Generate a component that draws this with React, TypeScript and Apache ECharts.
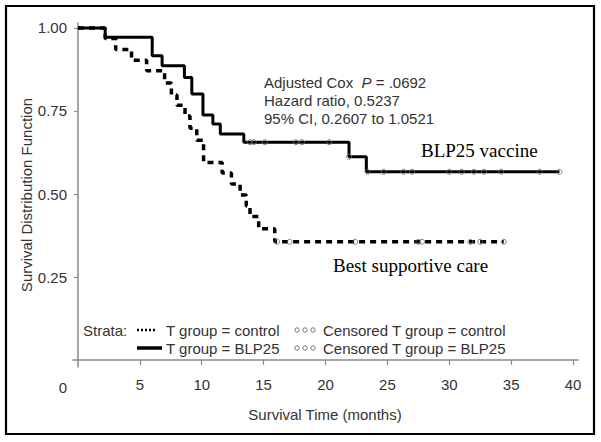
import React, { useEffect, useRef } from "react";
import * as echarts from "echarts";

// BLP25 vaccine arm (solid) – Kaplan-Meier steps
const blpTimes = [0, 2.2, 6.0, 6.8, 8.6, 9.2, 10.1, 10.9, 11.5, 13.4, 21.9, 23.3, 38.9];
const blpSurv = [1.0, 0.972, 0.916, 0.886, 0.851, 0.801, 0.738, 0.711, 0.681, 0.656, 0.612, 0.567, 0.567];
const blpCensorTimes = [13.9, 14.2, 15.1, 17.6, 18.1, 20.3, 21.9, 23.4, 24.7, 26.3, 27.0, 30.0, 31.0, 32.0, 32.8, 34.2, 37.3, 38.9];
const blpCensorSurv = [0.656, 0.656, 0.656, 0.656, 0.656, 0.656, 0.612, 0.567, 0.567, 0.567, 0.567, 0.567, 0.567, 0.567, 0.567, 0.567, 0.567, 0.567];

// Control arm (best supportive care, dashed)
const ctlTimes = [0, 2.2, 3.05, 4.33, 5.55, 7.0, 7.55, 8.0, 8.65, 9.05, 9.6, 10.15, 11.65, 12.4, 13.1, 13.6, 13.9, 14.6, 15.9, 34.4];
const ctlSurv = [1.0, 0.968, 0.935, 0.903, 0.871, 0.834, 0.798, 0.767, 0.735, 0.698, 0.662, 0.595, 0.563, 0.53, 0.497, 0.464, 0.432, 0.395, 0.356, 0.356];
const ctlCensorTimes = [16.1, 17.1, 22.4, 27.5, 27.8, 31.7, 32.5, 34.4];
const ctlCensorSurv = [0.356, 0.356, 0.356, 0.356, 0.356, 0.356, 0.356, 0.356];

const xTicks = [5, 10, 15, 20, 25, 30, 35, 40];
const yTicks = [0.25, 0.5, 0.75, 1.0];

const statLines = ["Hazard ratio, 0.5237", "95% CI, 0.2607 to 1.0521"];

const SANS = "'Liberation Sans', Arial, Helvetica, sans-serif";
const SERIF = "'Liberation Serif', 'Times New Roman', serif";
const TXT = "#333";
const AXIS = "#8a8a8a";

const zip = (a: number[], b: number[]) => a.map((v, i) => [v, b[i]]);

export default function App() {
  const ref = useRef<HTMLDivElement>(null);
  useEffect(() => {
    const chart = echarts.init(ref.current!, null, { renderer: "svg" });
    const sansText = (x: number, y: number, text: string, extra: any = {}) => ({
      type: "text",
      x,
      y,
      style: { text, fill: TXT, font: `15px ${SANS}`, verticalAlign: "middle", ...extra },
    });
    const circles = (y: number) =>
      [297, 305, 313].map((cx) => ({
        type: "circle",
        shape: { cx, cy: y, r: 2.2 },
        style: { fill: "none", stroke: "#777", lineWidth: 1 },
      }));
    chart.setOption({
      animation: false,
      grid: { left: 73, right: 23, top: 23, bottom: 75 },
      xAxis: {
        type: "value",
        min: -0.4,
        max: 40.4,
        axisLine: { show: true, lineStyle: { color: AXIS, width: 1.5 } },
        axisTick: { show: true, customValues: xTicks, length: 5, lineStyle: { color: AXIS, width: 1.2 } },
        axisLabel: { customValues: xTicks, margin: 10, fontSize: 15, color: TXT, fontFamily: SANS },
        splitLine: { show: false },
      },
      yAxis: {
        type: "value",
        min: -0.021,
        max: 1.015,
        axisLine: { show: true, lineStyle: { color: AXIS, width: 1.5 } },
        axisTick: { show: true, customValues: yTicks, length: 4, lineStyle: { color: AXIS, width: 1.2 } },
        axisLabel: {
          customValues: yTicks,
          margin: 6,
          fontSize: 15,
          color: TXT,
          fontFamily: SANS,
          formatter: (v: number) => v.toFixed(2),
        },
        splitLine: { show: false },
      },
      series: [
        {
          type: "line",
          step: "end",
          data: zip(blpTimes, blpSurv),
          showSymbol: false,
          lineStyle: { color: "#000", width: 3 },
          z: 3,
        },
        {
          type: "line",
          step: "end",
          data: zip(ctlTimes, ctlSurv),
          showSymbol: false,
          lineStyle: { color: "#000", width: 3.5, type: [6, 5] },
          z: 3,
        },
        {
          type: "scatter",
          data: zip(blpCensorTimes, blpCensorSurv),
          symbol: "circle",
          symbolSize: 5,
          itemStyle: { color: "rgba(255,255,255,0)", borderColor: "#666", borderWidth: 1 },
          z: 4,
        },
        {
          type: "scatter",
          data: zip(ctlCensorTimes, ctlCensorSurv),
          symbol: "circle",
          symbolSize: 5,
          itemStyle: { color: "rgba(255,255,255,0)", borderColor: "#666", borderWidth: 1 },
          z: 4,
        },
      ],
      graphic: [
        {
          type: "rect",
          shape: { x: 6, y: 6, width: 588, height: 428 },
          style: { fill: "none", stroke: "#000", lineWidth: 2.2 },
        },
        sansText(63, 387, "0", { align: "center" }),
        sansText(325, 414, "Survival Time (months)", { align: "center" }),
        {
          type: "text",
          x: 26,
          y: 195,
          rotation: Math.PI / 2,
          style: {
            text: "Survival Distribution Function",
            fill: TXT,
            font: `15px ${SANS}`,
            align: "center",
            verticalAlign: "middle",
          },
        },
        {
          type: "text",
          x: 264,
          y: 82,
          style: {
            text: "{n|Adjusted Cox  }{i|P}{n| = .0692}",
            verticalAlign: "middle",
            rich: {
              n: { fontSize: 15, fontFamily: SANS, fill: TXT },
              i: { fontSize: 15, fontFamily: SANS, fontStyle: "italic", fill: TXT },
            },
          },
        },
        sansText(264, 100, statLines[0]),
        sansText(264, 118.5, statLines[1]),
        {
          type: "text",
          x: 421,
          y: 150,
          style: { text: "BLP25 vaccine", fill: "#000", font: `19px ${SERIF}`, verticalAlign: "middle" },
        },
        {
          type: "text",
          x: 333,
          y: 265,
          style: { text: "Best supportive care", fill: "#000", font: `19px ${SERIF}`, verticalAlign: "middle" },
        },
        // legend
        sansText(83, 330, "Strata:"),
        {
          type: "line",
          shape: { x1: 137, y1: 330, x2: 157, y2: 330 },
          style: { stroke: "#000", lineWidth: 2.5, lineDash: [2, 2] },
        },
        sansText(166, 330, "T group = control"),
        ...circles(330),
        sansText(323, 330, "Censored T group = control"),
        {
          type: "line",
          shape: { x1: 137, y1: 348, x2: 162, y2: 348 },
          style: { stroke: "#000", lineWidth: 3.5 },
        },
        sansText(166, 348, "T group = BLP25"),
        ...circles(348),
        sansText(323, 348, "Censored T group = BLP25"),
      ],
    });
    return () => chart.dispose();
  }, []);
  return (
    <div
      ref={ref}
      style={{ position: "absolute", left: 0, top: 0, width: 601, height: 442, background: "#fff" }}
    />
  );
}
